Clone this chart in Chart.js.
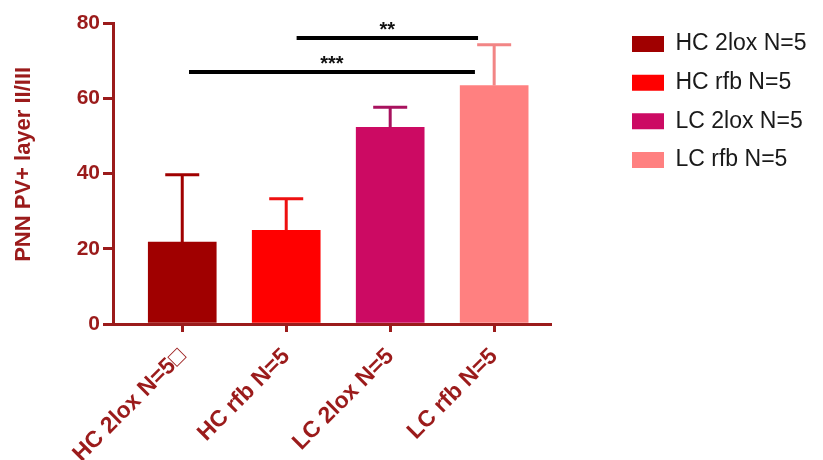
<!DOCTYPE html>
<html>
<head>
<meta charset="utf-8">
<script src="https://cdn.jsdelivr.net/npm/chart.js@4.4.1/dist/chart.umd.min.js"></script>
<style>
  html, body { margin: 0; padding: 0; background: #fff; }
  #wrap { width: 823px; height: 460px; }
</style>
</head>
<body>
<div id="wrap"><canvas id="chart" width="823" height="460"></canvas></div>
<script>
// groups and values (mean + SD)
var categories = ['HC 2lox N=5\u25A1', 'HC rfb N=5', 'LC 2lox N=5', 'LC rfb N=5'];
var legendLabels = ['HC 2lox N=5', 'HC rfb N=5', 'LC 2lox N=5', 'LC rfb N=5'];
var means = [21.8, 24.9, 52.3, 63.4];
var errors = [17.9, 8.4, 5.3, 10.8];
var yTicks = [0, 20, 40, 60, 80];

// significance brackets: from group, to group, height, stars
var sigFrom = [1.1, 0.065];
var sigTo = [2.845, 2.815];
var sigY = [76.0, 67.0];
var sigText = ['**', '***'];

var colors = ['#a00000', '#ff0000', '#cc0a63', '#ff8080'];
var errColors = ['#a00000', '#ee1010', '#a8125e', '#f28585'];
var axisColor = '#9b1b1b';

// error bars + significance lines
var extras = {
  id: 'extras',
  afterDatasetsDraw: function(chart) {
    var ctx = chart.ctx, x = chart.scales.x, y = chart.scales.y;
    ctx.save();
    ctx.lineWidth = 3;
    for (var i = 0; i < means.length; i++) {
      var px = x.getPixelForValue(i);
      var top = y.getPixelForValue(means[i] + errors[i]);
      ctx.strokeStyle = errColors[i];
      ctx.beginPath();
      ctx.moveTo(px, y.getPixelForValue(means[i]));
      ctx.lineTo(px, top);
      ctx.moveTo(px - 17, top);
      ctx.lineTo(px + 17, top);
      ctx.stroke();
    }
    ctx.strokeStyle = '#000';
    ctx.fillStyle = '#111';
    ctx.lineWidth = 4;
    ctx.font = 'bold 20px Arial, "Liberation Sans", sans-serif';
    ctx.textAlign = 'center';
    ctx.textBaseline = 'alphabetic';
    for (var j = 0; j < sigY.length; j++) {
      var x1 = x.getPixelForValue(sigFrom[j]), x2 = x.getPixelForValue(sigTo[j]);
      var py = y.getPixelForValue(sigY[j]);
      ctx.beginPath();
      ctx.moveTo(x1, py);
      ctx.lineTo(x2, py);
      ctx.stroke();
      ctx.fillText(sigText[j], (x1 + x2) / 2, py - 2);
    }
    ctx.restore();
  }
};

// keep legend clear of the plot: reserve space, then put the items back at the right
var legendSpot = {
  id: 'legendSpot',
  beforeLayout: function(chart) {
    var lg = chart.legend;
    if (lg && !lg._patched) {
      var fit = lg.fit;
      lg.fit = function() { fit.call(this); this.width = 823 - 550; };
      lg._patched = true;
    }
  },
  afterLayout: function(chart) {
    var lg = chart.legend;
    lg.left = 616.4;
    lg.top = 17;
  }
};

var chData = {
  datasets: [{
    data: categories.map(function(c, i) { return {x: i, y: means[i]}; }),
    backgroundColor: colors,
    borderWidth: 0,
    barThickness: 68
  }]
};

new Chart(document.getElementById('chart'), {
  type: 'bar',
  data: chData,
  plugins: [extras, legendSpot],
  options: {
    responsive: false,
    animation: false,
    layout: {padding: {top: 23, right: 0, bottom: 0, left: 0}},
    plugins: {
      tooltip: {enabled: false},
      legend: {
        position: 'right',
        align: 'start',
        labels: {
          boxWidth: 32,
          boxHeight: 16,
          padding: 15.6,
          color: '#1a1a1a',
          font: {family: 'Arial, "Liberation Sans", sans-serif', size: 23},
          generateLabels: function() {
            return legendLabels.map(function(t, i) {
              return {text: t, fillStyle: colors[i], strokeStyle: colors[i], lineWidth: 0, hidden: false, index: i, fontColor: '#1a1a1a'};
            });
          }
        }
      }
    },
    scales: {
      x: {
        type: 'linear',
        offset: false,
        min: -0.666,
        max: 3.537,
        afterBuildTicks: function(s) { s.ticks = categories.map(function(c, i) { return {value: i}; }); },
        afterFit: function(s) { s.height = 136; },
        grid: {offset: false, drawOnChartArea: false, drawTicks: true, tickLength: 8, color: axisColor, lineWidth: 3},
        border: {color: axisColor, width: 3},
        ticks: {
          minRotation: 45,
          maxRotation: 45,
          autoSkip: false,
          padding: 11,
          color: axisColor,
          font: {family: 'Arial, "Liberation Sans", sans-serif', size: 23, weight: 'bold'},
          callback: function(v) { return categories[v]; }
        }
      },
      y: {
        min: 0,
        max: 80,
        afterBuildTicks: function(s) { s.ticks = yTicks.map(function(v) { return {value: v}; }); },
        afterFit: function(s) { s.width = 113; },
        grid: {drawOnChartArea: false, drawTicks: true, tickLength: 10, color: axisColor, lineWidth: 3},
        border: {color: axisColor, width: 3},
        title: {
          display: true,
          text: '   PNN PV+ layer II/III',
          color: axisColor,
          padding: {top: 11, bottom: 0},
          font: {family: 'Arial, "Liberation Sans", sans-serif', size: 22, weight: 'bold'}
        },
        ticks: {
          padding: 3,
          color: axisColor,
          font: {family: 'Arial, "Liberation Sans", sans-serif', size: 21, weight: 'bold'}
        }
      }
    }
  }
});
</script>
</body>
</html>
